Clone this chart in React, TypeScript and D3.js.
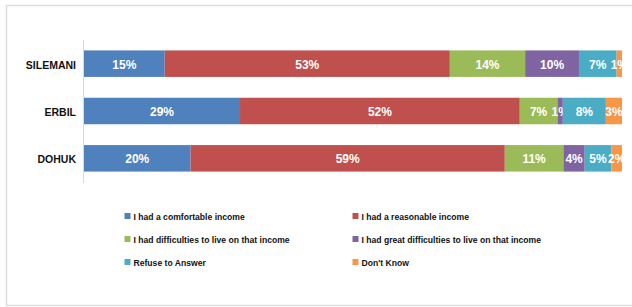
import * as d3 from "d3";
import { useEffect } from "react";

const regions = ["SILEMANI", "ERBIL", "DOHUK"];

const answers = [
  "I had a comfortable income",
  "I had a reasonable income",
  "I had difficulties to live on that income",
  "I had great difficulties to live on that income",
  "Refuse to Answer",
  "Don't Know",
];

// percentages per region, in the order of answers
const silemani = [15, 53, 14, 10, 7, 1];
const erbil = [29, 52, 7, 1, 8, 3];
const dohuk = [20, 59, 11, 4, 5, 2];

const colors = ["#4f81bd", "#c0504d", "#9bbb59", "#8064a2", "#4bacc6", "#f79646"];

export const App = () => {
  useEffect(() => {
    const root = d3.select("#chart");
    root.html(""); // reset
    const svg = root
      .append("svg")
      .attr("width", 632)
      .attr("height", 307)
      .style("position", "absolute")
      .style("left", 0)
      .style("top", 0)
      .style("font-family", "'Liberation Sans', Arial, sans-serif");

    svg.append("rect").attr("width", 632).attr("height", 307).attr("fill", "#fff");
    // frame of the pasted chart
    svg
      .append("rect")
      .attr("x", 6.5)
      .attr("y", 5.5)
      .attr("width", 700)
      .attr("height", 300)
      .attr("fill", "none")
      .attr("stroke", "#dedede")
      .attr("stroke-width", 1.5);

    const rows = [silemani, erbil, dohuk];

    const y = d3.scaleBand().domain(regions).range([40, 182]).paddingInner(0.44).paddingOuter(0.22);
    const x = d3.scaleLinear().domain([0, 1]).range([84, 622]);

    svg
      .append("line")
      .attr("x1", 83.5)
      .attr("x2", 83.5)
      .attr("y1", 40)
      .attr("y2", 183)
      .attr("stroke", "#d9d9d9");

    regions.forEach((r, i) => {
      const vals = rows[i];
      const total = d3.sum(vals);
      let acc = 0;
      const g = svg.append("g");
      vals.forEach((v, j) => {
        const x0 = x(acc / total);
        const x1 = x((acc + v) / total);
        acc += v;
        g.append("rect")
          .attr("x", x0)
          .attr("y", y(r)!)
          .attr("width", x1 - x0)
          .attr("height", y.bandwidth())
          .attr("fill", colors[j]);
        g.append("text")
          .attr("x", (x0 + x1) / 2)
          .attr("y", y(r)! + y.bandwidth() / 2 + 1)
          .attr("text-anchor", "middle")
          .attr("dominant-baseline", "central")
          .attr("fill", "#fff")
          .attr("font-weight", "bold")
          .attr("font-size", 12)
          .text(v + "%");
      });
      svg
        .append("text")
        .attr("x", 76)
        .attr("y", y(r)! + y.bandwidth() / 2 + 1)
        .attr("text-anchor", "end")
        .attr("dominant-baseline", "central")
        .attr("font-weight", "bold")
        .attr("font-size", 10.5)
        .attr("fill", "#111")
        .text(r);
    });

    // legend, two columns
    const legend = svg.append("g");
    answers.forEach((a, i) => {
      const lx = i % 2 === 0 ? 124.5 : 352.5;
      const ly = 217 + Math.floor(i / 2) * 23;
      legend
        .append("rect")
        .attr("x", lx)
        .attr("y", ly - 4)
        .attr("width", 6)
        .attr("height", 6)
        .attr("fill", colors[i]);
      legend
        .append("text")
        .attr("x", lx + 9)
        .attr("y", ly)
        .attr("dominant-baseline", "central")
        .attr("font-weight", "bold")
        .attr("font-size", 8.6)
        .attr("fill", "#111")
        .text(a);
    });
  }, []);
  return <div id="chart"></div>;
};

export default App;
